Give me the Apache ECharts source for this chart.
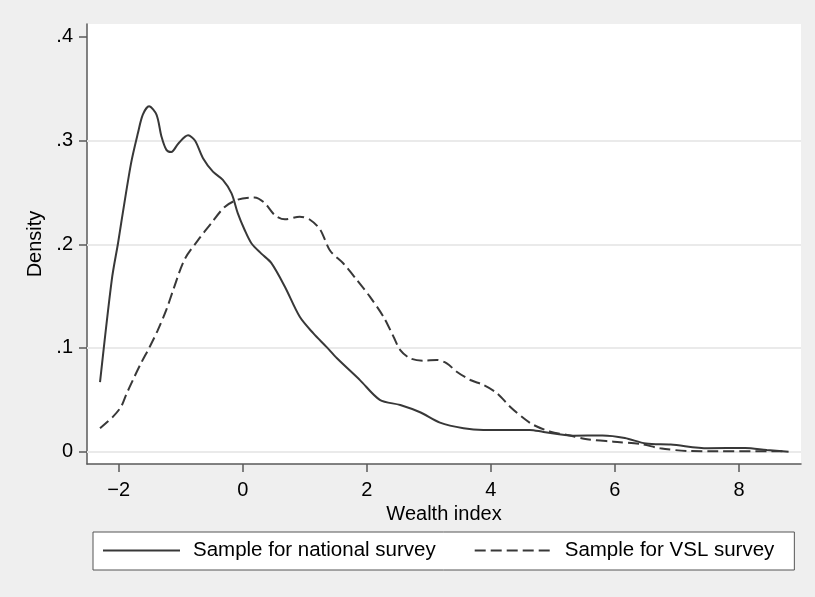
<!DOCTYPE html>
<html>
<head>
<meta charset="utf-8">
<script src="https://cdn.jsdelivr.net/npm/echarts@6/dist/echarts.min.js"></script>
<style>
html,body{margin:0;padding:0;background:#efefef;}
#chart{width:815px;height:597px;}
</style>
</head>
<body>
<div id="chart"></div>
<script>
// Data
var seriesNames = ['Sample for national survey', 'Sample for VSL survey'];
var nationalX = [-2.30, -2.11, -2.01, -1.96, -1.80, -1.69, -1.61, -1.51, -1.39, -1.31, -1.23, -1.15, -1.04, -0.88, -0.77, -0.64, -0.48, -0.32, -0.18, -0.08, 0.03, 0.14, 0.30, 0.46, 0.68, 0.92, 1.14, 1.35, 1.52, 1.89, 2.21, 2.54, 2.86, 3.18, 3.56, 3.88, 4.15, 4.63, 4.85, 5.33, 5.80, 6.16, 6.50, 6.90, 7.50, 8.10, 8.45, 8.80];
var nationalY = [0.067, 0.166, 0.201, 0.220, 0.278, 0.307, 0.325, 0.333, 0.325, 0.304, 0.291, 0.289, 0.297, 0.305, 0.300, 0.283, 0.270, 0.262, 0.249, 0.230, 0.214, 0.201, 0.191, 0.182, 0.159, 0.130, 0.114, 0.101, 0.090, 0.069, 0.050, 0.045, 0.038, 0.028, 0.0226, 0.021, 0.021, 0.021, 0.019, 0.0154, 0.0156, 0.0132, 0.0078, 0.0068, 0.0033, 0.0036, 0.0016, 0.0];
var vslX = [-2.30, -2.09, -1.96, -1.88, -1.77, -1.64, -1.50, -1.37, -1.23, -1.12, -0.94, -0.72, -0.51, -0.29, -0.08, 0.19, 0.35, 0.52, 0.68, 0.92, 1.09, 1.25, 1.41, 1.62, 1.84, 2.05, 2.27, 2.43, 2.54, 2.70, 2.91, 3.13, 3.29, 3.45, 3.67, 3.88, 4.10, 4.31, 4.53, 4.69, 4.96, 5.23, 5.55, 5.98, 6.41, 6.73, 7.16, 7.65, 8.77];
var vslY = [0.0226, 0.0338, 0.0434, 0.0547, 0.0691, 0.0852, 0.101, 0.117, 0.137, 0.156, 0.185, 0.204, 0.220, 0.236, 0.243, 0.245, 0.240, 0.228, 0.224, 0.2266, 0.2234, 0.214, 0.1937, 0.1817, 0.1656, 0.1495, 0.130, 0.111, 0.098, 0.090, 0.0877, 0.0884, 0.0852, 0.0771, 0.0691, 0.0643, 0.0563, 0.0434, 0.0322, 0.0257, 0.0193, 0.0161, 0.012, 0.0096, 0.0074, 0.0033, 0.0007, 0.0004, 0.0003];
var xTicks = [-2, 0, 2, 4, 6, 8];
var xTickLabels = ['\u22122', '0', '2', '4', '6', '8'];
var yTicks = [0, 0.1, 0.2, 0.3, 0.4];
var yTickLabels = ['0', '.1', '.2', '.3', '.4'];
var gridValues = [0, 0.1, 0.2, 0.3];
var xTitle = 'Wealth index';
var yTitle = 'Density';

function zip(xs, ys) { return xs.map(function (x, i) { return [x, ys[i]]; }); }

var FONT = "'Liberation Sans', Arial, Helvetica, sans-serif";
var FS = 20;
var LINE = '#383838';
var AXIS = '#5a5a5a';

var chart = echarts.init(document.getElementById('chart'), null, {renderer: 'canvas'});
chart.setOption({
  backgroundColor: '#efefef',
  animation: false,
  textStyle: {fontFamily: FONT},
  graphic: [{
    type: 'rect', z: -10,
    shape: {x: 87, y: 24, width: 714, height: 440},
    style: {fill: '#ffffff'}
  }],
  grid: {left: 87, top: 24, width: 714, height: 440, containLabel: false},
  xAxis: {
    type: 'value', min: -2.51, max: 9.0,
    name: xTitle, nameLocation: 'middle', nameGap: 35,
    nameTextStyle: {fontFamily: FONT, fontSize: FS, color: '#000'},
    axisLine: {show: true, onZero: false, lineStyle: {color: AXIS, width: 1.5}},
    axisTick: {show: true, length: 8, customValues: xTicks, lineStyle: {color: AXIS, width: 1.5}},
    axisLabel: {
      customValues: xTicks, fontFamily: FONT, fontSize: FS, color: '#000', margin: 16,
      formatter: function (v) { var i = xTicks.indexOf(v); return i >= 0 ? xTickLabels[i] : ''; }
    },
    splitLine: {show: false}
  },
  yAxis: {
    type: 'value', min: -0.0119, max: 0.4124,
    name: yTitle, nameLocation: 'middle', nameGap: 36, nameRotate: 90,
    nameTextStyle: {fontFamily: FONT, fontSize: FS, color: '#000'},
    axisLine: {show: true, onZero: false, lineStyle: {color: AXIS, width: 1.5}},
    axisTick: {show: true, length: 8, customValues: yTicks, lineStyle: {color: AXIS, width: 1.5}},
    axisLabel: {
      customValues: yTicks, fontFamily: FONT, fontSize: FS, color: '#000', margin: 14,
      formatter: function (v) {
        for (var i = 0; i < yTicks.length; i++) { if (Math.abs(yTicks[i] - v) < 1e-9) return yTickLabels[i]; }
        return '';
      }
    },
    splitLine: {show: false}
  },
  legend: {
    left: 93, top: 532,
    backgroundColor: '#ffffff', borderColor: '#555555', borderWidth: 1,
    padding: [8, 20, 9, 9],
    itemWidth: 77, itemHeight: 14, itemGap: 38,
    itemStyle: {opacity: 0, borderWidth: 0},
    textStyle: {fontFamily: FONT, fontSize: 20.5, color: '#000', padding: [0, 0, 0, 8]},
    data: seriesNames
  },
  series: [{
    name: seriesNames[0], type: 'line', data: zip(nationalX, nationalY),
    showSymbol: false, symbol: 'none', smooth: 0.3, z: 5,
    lineStyle: {color: LINE, width: 2, type: 'solid'},
    itemStyle: {color: LINE},
    markLine: {
      silent: true, symbol: ['none', 'none'], z: 1,
      label: {show: false},
      lineStyle: {color: '#eaeaea', width: 2, type: 'solid'},
      data: gridValues.map(function (v) { return {yAxis: v}; })
    }
  }, {
    name: seriesNames[1], type: 'line', data: zip(vslX, vslY),
    showSymbol: false, symbol: 'none', smooth: 0.3, z: 5,
    lineStyle: {color: LINE, width: 2, type: [11, 5]},
    itemStyle: {color: LINE}
  }]
});
</script>
</body>
</html>
